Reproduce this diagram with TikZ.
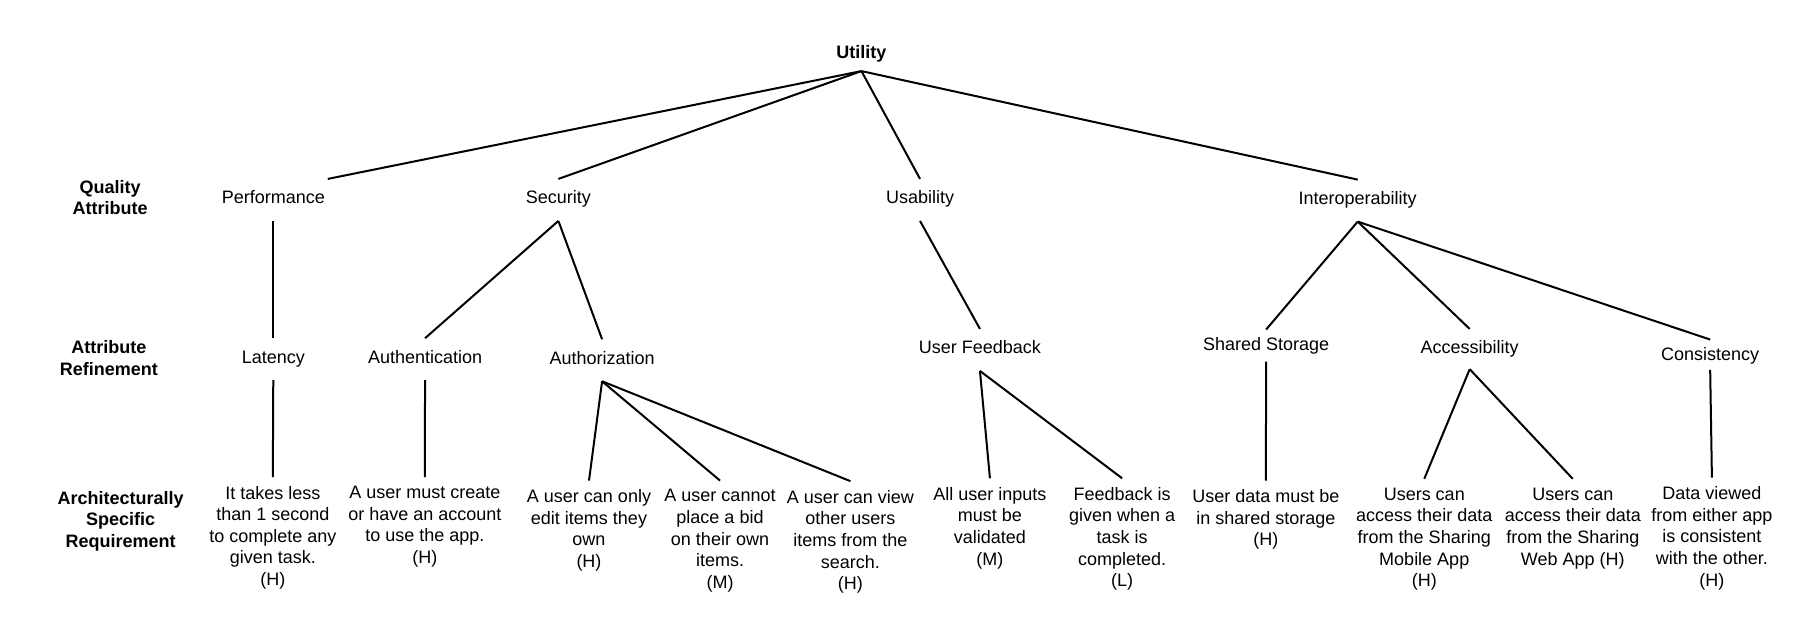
\documentclass[tikz,border=0pt]{standalone}
\usepackage{fontspec}
\setmainfont{Liberation Sans}
\begin{document}
\begin{tikzpicture}[x=0.5797pt, y=-0.5797pt, line width=1pt,
  every node/.style={font=\fontsize{9pt}{10.8pt}\selectfont},
  lvl/.style={anchor=base, inner xsep=1pt, inner ysep=0pt, text height=11.9pt, text depth=8.1pt},
  req/.style={anchor=north, align=center, inner xsep=1pt, inner ysep=4pt},
  hdr/.style={align=center, font=\fontsize{9pt}{10.8pt}\selectfont\bfseries, inner sep=0pt},
  conn/.style={draw=black, line width=1pt}]
\useasboundingbox (0,0) rectangle (1568,536);

% root
\node[lvl, font=\fontsize{9pt}{10.8pt}\selectfont\bfseries, text depth=6pt] (util) at (743,50.1) {Utility};

% row headers
\node[hdr] (hq) at (95,170.4) {Quality\\Attribute};
\node[hdr] (hr) at (94,309) {Attribute\\Refinement};
\node[hdr] (ha) at (104,449.5) {Architecturally\\Specific\\Requirement};

% quality attributes
\node[lvl] (perf) at (235.7,175.7) {Performance};
\node[lvl] (sec) at (481.6,175.7) {Security};
\node[lvl] (usa) at (793.5,175.7) {Usability};
\node[lvl] (inter) at (1171,176.3) {Interoperability};

% refinements
\node[lvl] (lat) at (235.7,313.1) {Latency};
\node[lvl] (authn) at (366.6,313.1) {Authentication};
\node[lvl] (authz) at (519.3,314) {Authorization};
\node[lvl] (uf) at (845.2,305.1) {User Feedback};
\node[lvl, text height=9.8pt, text depth=5.2pt] (ss) at (1092,302) {Shared Storage};
\node[lvl, text depth=7.2pt] (acc) at (1267.6,305.1) {Accessibility};
\node[lvl, text height=9.9pt, text depth=4.3pt] (cons) at (1475,310.8) {Consistency};

% requirements
\node[req] (r1) at (235.3,411.5) {It takes less\\than 1 second\\to complete any\\given task.\\(H)};
\node[req] (r2) at (366.4,411.5) {A user must create\\or have an account\\to use the app.\\(H)};
\node[req] (r3) at (508,414.5) {A user can only\\edit items they\\own\\(H)};
\node[req] (r4) at (621,414.5) {A user cannot\\place a bid\\on their own\\items.\\(M)};
\node[req] (r5) at (733.5,415) {A user can view\\other users\\items from the\\search.\\(H)};
\node[req] (r6) at (853.8,412.5) {All user inputs\\must be\\validated\\(M)};
\node[req] (r7) at (967.8,412.5) {Feedback is\\given when a\\task is\\completed.\\(L)};
\node[req] (r8) at (1091.8,414.5) {User data must be\\in shared storage\\(H)};
\node[req] (r9) at (1228.4,413) {Users can\\access their data\\from the Sharing\\Mobile App\\(H)};
\node[req] (r10) at (1356.5,413) {Users can\\access their data\\from the Sharing\\Web App (H)};
\node[req] (r11) at (1476.5,412) {Data viewed\\from either app\\is consistent\\with the other.\\(H)};

% connectors
\draw[conn] (util.south) -- (perf.north east);
\draw[conn] (util.south) -- (sec.north);
\draw[conn] (util.south) -- (usa.north);
\draw[conn] (util.south) -- (inter.north);
\draw[conn] (perf.south) -- (lat.north);
\draw[conn] (sec.south) -- (authn.north);
\draw[conn] (sec.south) -- (authz.north);
\draw[conn] (usa.south) -- (uf.north);
\draw[conn] (inter.south) -- (ss.north);
\draw[conn] (inter.south) -- (acc.north);
\draw[conn] (inter.south) -- (cons.north);
\draw[conn] (lat.south) -- (r1.north);
\draw[conn] (authn.south) -- (r2.north);
\draw[conn] (authz.south) -- (r3.north);
\draw[conn] (authz.south) -- (r4.north);
\draw[conn] (authz.south) -- (r5.north);
\draw[conn] (uf.south) -- (r6.north);
\draw[conn] (uf.south) -- (r7.north);
\draw[conn] (ss.south) -- (r8.north);
\draw[conn] (acc.south) -- (r9.north);
\draw[conn] (acc.south) -- (r10.north);
\draw[conn] (cons.south) -- (r11.north);
\end{tikzpicture}
\end{document}
